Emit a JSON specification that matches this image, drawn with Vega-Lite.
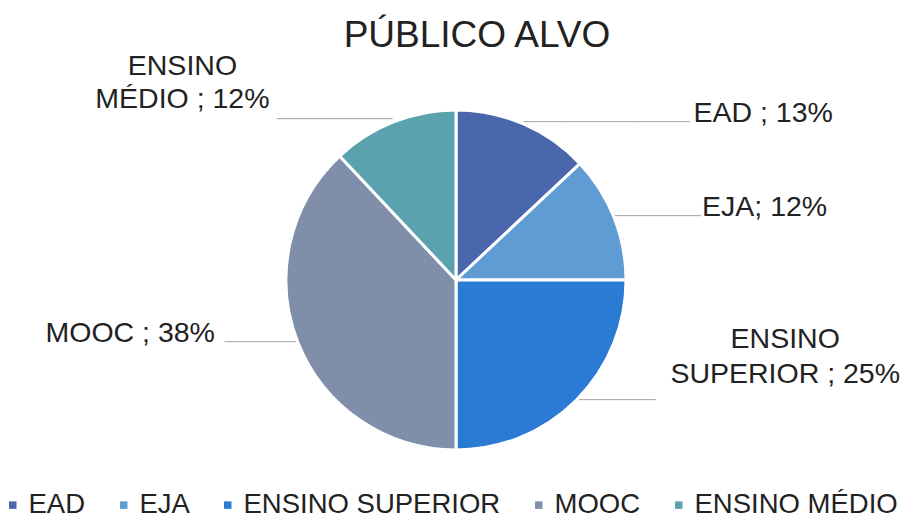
{
  "$schema": "https://vega.github.io/schema/vega-lite/v6.json",
  "autosize": "none",
  "width": 898,
  "height": 478,
  "padding": {"left": 7, "top": 41, "right": 0, "bottom": 0},
  "background": "white",
  "config": {"view": {"stroke": null}, "font": "Liberation Sans"},
  "title": {"text": "PÚBLICO ALVO", "fontSize": 37, "font": "Liberation Sans", "fontWeight": "normal", "color": "#222222", "anchor": "middle", "dx": 21, "dy": 37, "baseline": "alphabetic", "offset": -6},
  "data": {"values": [
    {"categoria": "EAD", "valor": 13, "ordem": 1},
    {"categoria": "EJA", "valor": 12, "ordem": 2},
    {"categoria": "ENSINO SUPERIOR", "valor": 25, "ordem": 3},
    {"categoria": "MOOC", "valor": 38, "ordem": 4},
    {"categoria": "ENSINO MÉDIO", "valor": 12, "ordem": 5}
  ]},
  "transform": [
    {"window": [{"op": "sum", "field": "valor", "as": "acum"}], "sort": [{"field": "ordem"}], "frame": [null, 0]},
    {"calculate": "datum.acum - datum.valor / 2", "as": "meio"}
  ],
  "layer": [
    {"transform": [{"filter": "datum.categoria == 'EAD'"}], "mark": {"type": "text", "radius": 170, "text": "───────────────────────", "font": "DejaVu Sans Mono", "fontSize": 12, "color": "#a6a6a6", "align": "left", "baseline": "alphabetic", "dx": 0, "dy": 2}, "encoding": {"theta": {"field": "meio", "type": "quantitative", "stack": null, "scale": {"domain": [0, 100]}}}},
    {"transform": [{"filter": "datum.categoria == 'EJA'"}], "mark": {"type": "text", "radius": 170, "text": "────────────", "font": "DejaVu Sans Mono", "fontSize": 12, "color": "#a6a6a6", "align": "left", "baseline": "alphabetic", "dx": 0, "dy": 3}, "encoding": {"theta": {"field": "meio", "type": "quantitative", "stack": null, "scale": {"domain": [0, 100]}}}},
    {"transform": [{"filter": "datum.categoria == 'ENSINO SUPERIOR'"}], "mark": {"type": "text", "radius": 170, "text": "───────────", "font": "DejaVu Sans Mono", "fontSize": 12, "color": "#a6a6a6", "align": "left", "baseline": "alphabetic", "dx": 0, "dy": 4}, "encoding": {"theta": {"field": "meio", "type": "quantitative", "stack": null, "scale": {"domain": [0, 100]}}}},
    {"transform": [{"filter": "datum.categoria == 'MOOC'"}], "mark": {"type": "text", "radius": 170, "text": "──────────", "font": "DejaVu Sans Mono", "fontSize": 12, "color": "#a6a6a6", "align": "right", "baseline": "alphabetic", "dx": -1, "dy": 3}, "encoding": {"theta": {"field": "meio", "type": "quantitative", "stack": null, "scale": {"domain": [0, 100]}}}},
    {"transform": [{"filter": "datum.categoria == 'ENSINO MÉDIO'"}], "mark": {"type": "text", "radius": 170, "text": "────────────────", "font": "DejaVu Sans Mono", "fontSize": 12, "color": "#a6a6a6", "align": "right", "baseline": "alphabetic", "dx": -1, "dy": 1}, "encoding": {"theta": {"field": "meio", "type": "quantitative", "stack": null, "scale": {"domain": [0, 100]}}}},
    {
      "mark": {"type": "arc", "outerRadius": 170, "stroke": "white", "strokeWidth": 3},
      "encoding": {
        "theta": {"field": "valor", "type": "quantitative", "stack": true, "scale": {"domain": [0, 100]}},
        "order": {"field": "ordem", "type": "quantitative"},
        "color": {
          "field": "categoria", "type": "nominal",
          "scale": {"domain": ["EAD", "EJA", "ENSINO SUPERIOR", "MOOC", "ENSINO MÉDIO"], "range": ["#4a66ac", "#5e9cd3", "#2b7bd5", "#7f8fa9", "#5aa2ae"]},
          "legend": {"title": null, "orient": "none", "direction": "horizontal", "legendX": -8, "legendY": 450, "symbolType": "square", "symbolSize": 56, "symbolStrokeWidth": 0, "labelFontSize": 27.5, "labelFont": "Liberation Sans", "labelColor": "#222222", "labelOffset": 2, "columnPadding": 24, "padding": 0, "labelLimit": 400}
        }
      }
    },
    {"transform": [{"filter": "datum.categoria == 'EAD'"}], "mark": {"type": "text", "radius": 170, "font": "Liberation Sans", "fontSize": 28.5, "color": "#222222", "align": "left", "baseline": "alphabetic", "dx": 170, "dy": -2}, "encoding": {"theta": {"field": "meio", "type": "quantitative", "stack": null, "scale": {"domain": [0, 100]}}, "text": {"value": "EAD ; 13%"}}},
    {"transform": [{"filter": "datum.categoria == 'EJA'"}], "mark": {"type": "text", "radius": 170, "font": "Liberation Sans", "fontSize": 28.5, "color": "#222222", "align": "left", "baseline": "alphabetic", "dx": 88, "dy": -1}, "encoding": {"theta": {"field": "meio", "type": "quantitative", "stack": null, "scale": {"domain": [0, 100]}}, "text": {"value": "EJA; 12%"}}},
    {"transform": [{"filter": "datum.categoria == 'ENSINO SUPERIOR'"}], "mark": {"type": "text", "radius": 170, "font": "Liberation Sans", "fontSize": 28.5, "lineHeight": 35, "color": "#222222", "align": "center", "baseline": "alphabetic", "dx": 209, "dy": -52}, "encoding": {"theta": {"field": "meio", "type": "quantitative", "stack": null, "scale": {"domain": [0, 100]}}, "text": {"value": ["ENSINO", "SUPERIOR ; 25%"]}}},
    {"transform": [{"filter": "datum.categoria == 'MOOC'"}], "mark": {"type": "text", "radius": 170, "font": "Liberation Sans", "fontSize": 28.5, "color": "#222222", "align": "right", "baseline": "alphabetic", "dx": -83, "dy": -1}, "encoding": {"theta": {"field": "meio", "type": "quantitative", "stack": null, "scale": {"domain": [0, 100]}}, "text": {"value": "MOOC ; 38%"}}},
    {"transform": [{"filter": "datum.categoria == 'ENSINO MÉDIO'"}], "mark": {"type": "text", "radius": 170, "font": "Liberation Sans", "fontSize": 28.5, "lineHeight": 33, "color": "#222222", "align": "center", "baseline": "alphabetic", "dx": -211, "dy": -47}, "encoding": {"theta": {"field": "meio", "type": "quantitative", "stack": null, "scale": {"domain": [0, 100]}}, "text": {"value": ["ENSINO", "MÉDIO ; 12%"]}}}
  ]
}
